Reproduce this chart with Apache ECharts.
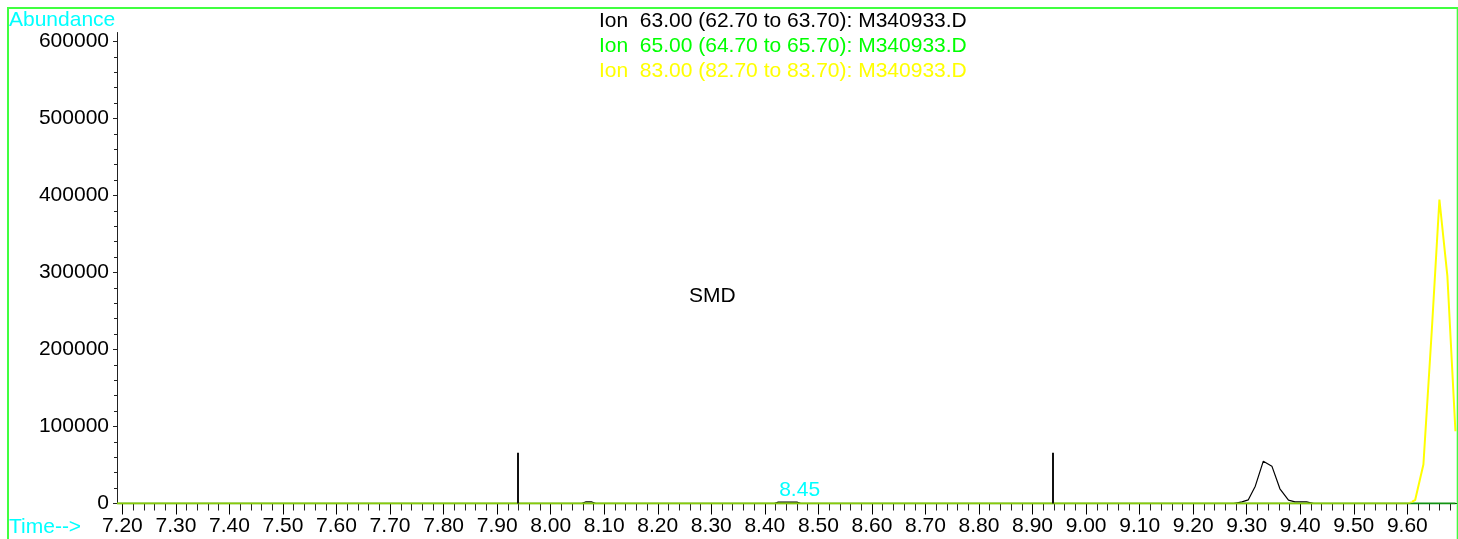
<!DOCTYPE html>
<html>
<head>
<meta charset="utf-8">
<script src="https://cdn.jsdelivr.net/npm/echarts@6/dist/echarts.min.js"></script>
<style>
html,body{margin:0;padding:0;background:#ffffff;}
#chart{width:1458px;height:539px;}
</style>
</head>
<body>
<div id="chart"></div>
<script>
const FONT = '"Liberation Sans", Arial, sans-serif';

// ---- data ----
const ionLabels = [
  'Ion  63.00 (62.70 to 63.70): M340933.D',
  'Ion  65.00 (64.70 to 65.70): M340933.D',
  'Ion  83.00 (82.70 to 83.70): M340933.D'
];
const ionColors = ['#000000', '#00ff00', '#ffff00'];

const ion63Time  = [7.19, 8.058, 8.066, 8.076, 8.084, 8.418, 8.425, 8.460, 8.467, 9.276, 9.291, 9.303, 9.316, 9.331, 9.347, 9.362, 9.378, 9.390, 9.412, 9.425, 9.690];
const ion63Abund = [0,    0,     2200,  2200,  0,     0,     1800,  1800,  0,     0,     2200,  4800,  22500, 55000, 48500, 19100, 4300,  2200,  2000,  0,     0];

const ion65Time  = [7.19, 9.690];
const ion65Abund = [0,    0];

const ion83Time  = [7.19, 9.602, 9.6145, 9.630, 9.6457, 9.6599, 9.6748, 9.6898];
const ion83Abund = [0,    0,     4300,   50600, 225000, 394800, 295200, 93900];

const markerTimes  = [7.938, 8.938];
const markerHeight = 66000;

const peakLabelTime = 8.45;
const peakLabelText = '8.45';

const xMajorTicks = [7.20, 7.30, 7.40, 7.50, 7.60, 7.70, 7.80, 7.90, 8.00, 8.10, 8.20, 8.30, 8.40, 8.50, 8.60, 8.70, 8.80, 8.90, 9.00, 9.10, 9.20, 9.30, 9.40, 9.50, 9.60];
const yMajorTicks = [0, 100000, 200000, 300000, 400000, 500000, 600000];

const X_MIN = 7.19, X_MAX = 9.692;
const Y_MIN = 0, Y_MAX = 611700;

// minor tick positions (every 0.02 min and every 20000 counts)
const xMinorTicks = [];
for (let i = 0; i <= 124; i++) { if (i % 5 !== 0) xMinorTicks.push(+(7.20 + i * 0.02).toFixed(2)); }
const yMinorTicks = [];
for (let i = 1; i < 30; i++) { if (i % 5 !== 0) yMinorTicks.push(i * 20000); }

const zip = (a, b) => a.map((t, i) => [t, b[i]]);

// yellow trace: baseline part blends with the green trace, peak part drawn solid
const ion83Start = ion83Time[0], ion83End = ion83Time[ion83Time.length - 1];
const ion83Split = (9.605 - ion83Start) / (ion83End - ion83Start);
const ion83Color = {
  type: 'linear', x: 0, y: 0, x2: 1, y2: 0,
  colorStops: [
    { offset: 0, color: 'rgba(255,255,0,0.5)' },
    { offset: ion83Split, color: 'rgba(255,255,0,0.5)' },
    { offset: ion83Split, color: '#ffff00' },
    { offset: 1, color: '#ffff00' }
  ]
};

const gridBox = { left: 117, top: 32.5, width: 1339.6, height: 471 };

const chart = echarts.init(document.getElementById('chart'), null, { renderer: 'canvas' });
chart.setOption({
  animation: false,
  backgroundColor: '#ffffff',
  grid: [
    Object.assign({ containLabel: false }, gridBox),
    Object.assign({ containLabel: false }, gridBox)
  ],
  xAxis: [
    {
      gridIndex: 0, type: 'value', min: X_MIN, max: X_MAX, position: 'bottom',
      axisLine: { show: true, onZero: false, lineStyle: { color: '#000000', width: 1 } },
      axisTick: { show: true, customValues: xMajorTicks, length: 11, lineStyle: { color: '#000000', width: 1 } },
      axisLabel: { show: true, customValues: xMajorTicks, formatter: v => Number(v).toFixed(2), margin: 12,
                   fontSize: 21, fontFamily: FONT, color: '#000000' },
      splitLine: { show: false }
    },
    {
      gridIndex: 1, type: 'value', min: X_MIN, max: X_MAX, position: 'bottom',
      axisLine: { show: false, onZero: false },
      axisTick: { show: true, customValues: xMinorTicks, length: 7, lineStyle: { color: '#222222', width: 1 } },
      axisLabel: { show: false },
      splitLine: { show: false }
    }
  ],
  yAxis: [
    {
      gridIndex: 0, type: 'value', min: Y_MIN, max: Y_MAX, position: 'left',
      axisLine: { show: true, onZero: false, lineStyle: { color: '#222222', width: 1 } },
      axisTick: { show: true, customValues: yMajorTicks, length: 4, lineStyle: { color: '#222222', width: 1 } },
      axisLabel: { show: true, customValues: yMajorTicks, formatter: v => String(Math.round(v)), margin: 8,
                   fontSize: 21, fontFamily: FONT, color: '#000000' },
      splitLine: { show: false }
    },
    {
      gridIndex: 1, type: 'value', min: Y_MIN, max: Y_MAX, position: 'left',
      axisLine: { show: false, onZero: false },
      axisTick: { show: true, customValues: yMinorTicks, length: 3, lineStyle: { color: '#222222', width: 1 } },
      axisLabel: { show: false },
      splitLine: { show: false }
    }
  ],
  series: [
    {
      name: ionLabels[0], type: 'line', xAxisIndex: 0, yAxisIndex: 0,
      data: zip(ion63Time, ion63Abund), symbol: 'none', z: 2,
      lineStyle: { color: ionColors[0], width: 1.2 }, itemStyle: { color: ionColors[0] },
      markLine: {
        silent: true, symbol: ['none', 'none'], animation: false,
        label: { show: false },
        lineStyle: { color: '#111111', width: 2, type: 'solid' },
        data: markerTimes.map(t => [{ coord: [t, 0] }, { coord: [t, markerHeight] }])
      },
      markPoint: {
        silent: true, symbol: 'circle', symbolSize: 0, animation: false,
        data: [{ coord: [peakLabelTime, 0], value: peakLabelText }],
        label: { show: true, position: 'inside', offset: [8, -13], formatter: peakLabelText,
                 color: '#00ffff', fontSize: 21, fontFamily: FONT }
      }
    },
    {
      name: ionLabels[1], type: 'line', xAxisIndex: 0, yAxisIndex: 0,
      data: zip(ion65Time, ion65Abund), symbol: 'none', z: 3,
      lineStyle: { color: '#129312', width: 2 }, itemStyle: { color: '#129312' }
    },
    {
      name: ionLabels[2], type: 'line', xAxisIndex: 0, yAxisIndex: 0,
      data: zip(ion83Time, ion83Abund), symbol: 'none', z: 4,
      lineStyle: { color: ion83Color, width: 2 }, itemStyle: { color: ionColors[2] }
    }
  ],
  graphic: [
    { type: 'rect', silent: true, z: 100,
      shape: { x: 8, y: 8, width: 1449.7, height: 600 },
      style: { fill: 'none', stroke: '#40ff40', lineWidth: 2 } },
    { type: 'text', silent: true, z: 100,
      style: { text: 'Abundance', x: 9, y: 20, fill: '#00ffff', font: '21px ' + FONT,
               textAlign: 'left', textVerticalAlign: 'middle', align: 'left', verticalAlign: 'middle' } },
    { type: 'text', silent: true, z: 100,
      style: { text: 'Time-->', x: 9, y: 527, fill: '#00ffff', font: '21px ' + FONT,
               textAlign: 'left', textVerticalAlign: 'middle', align: 'left', verticalAlign: 'middle' } },
    { type: 'text', silent: true, z: 100,
      style: { text: 'SMD', x: 689, y: 296, fill: '#000000', font: '21px ' + FONT,
               textAlign: 'left', textVerticalAlign: 'middle', align: 'left', verticalAlign: 'middle' } }
  ].concat(ionLabels.map((txt, i) => ({
    type: 'text', silent: true, z: 100,
    style: { text: txt, x: 599, y: 21 + i * 25, fill: ionColors[i], font: '21px ' + FONT,
             textAlign: 'left', textVerticalAlign: 'middle', align: 'left', verticalAlign: 'middle' }
  })))
});
</script>
</body>
</html>
